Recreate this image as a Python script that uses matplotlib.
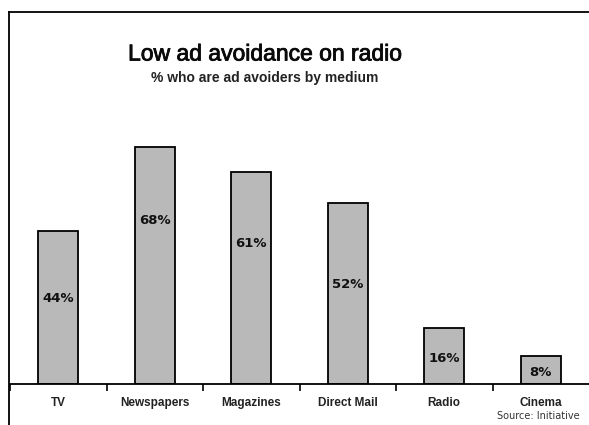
import matplotlib
matplotlib.use("Agg")
import matplotlib.pyplot as plt
import matplotlib.patheffects as pe
from matplotlib.lines import Line2D

plt.rcParams['font.family'] = ['Liberation Sans', 'DejaVu Sans']

categories = ['TV', 'Newspapers', 'Magazines', 'Direct Mail', 'Radio', 'Cinema']
values = [44, 68, 61, 52, 16, 8]
labels = ['44%', '68%', '61%', '52%', '16%', '8%']

# where the value label sits, as a fraction of the bar height
label_frac = [0.56, 0.69, 0.66, 0.55, 0.45, 0.43]

W, H = 589, 425
fig = plt.figure(figsize=(W / 100, H / 100), dpi=100)
fig.patch.set_facecolor('white')

# axes: baseline at y=384px, x from 10px to right edge
ax = fig.add_axes([10 / W, (H - 384) / H, 579 / W, 280 / H])
x = list(range(len(categories)))
ax.bar(x, values, width=0.41, color='#b9b9b9', edgecolor='black', linewidth=1.3, zorder=2)
ax.set_xlim(-0.5, len(categories) - 0.5)
ax.set_ylim(0, 280 / 3.48)

for i, v in enumerate(values):
    ax.text(i, v * label_frac[i], labels[i], ha='center', va='center',
            fontsize=9.5, fontweight='bold', color='#111111', family='DejaVu Sans')

for s in ['top', 'right', 'left']:
    ax.spines[s].set_visible(False)
ax.spines['bottom'].set_linewidth(1.3)
ax.set_yticks([])
ax.set_xticks([i - 0.5 for i in range(len(categories))])
ax.set_xticklabels([])
ax.tick_params(axis='x', direction='out', length=5, width=1.2)
for i, c in enumerate(categories):
    ax.text(i, -19 / 3.48, c, ha='center', va='center', fontsize=8.5,
            fontweight='bold', color='#222222')

# title and subtitle
fig.text(265 / W, 1 - 54 / H, 'Low ad avoidance on radio', ha='center', va='center',
         fontsize=16.5, color='#0a0a0a',
         path_effects=[pe.withStroke(linewidth=0.6, foreground='#0a0a0a')])
fig.text(265 / W, 1 - 78 / H, '% who are ad avoiders by medium', ha='center', va='center',
         fontsize=10, fontweight='bold', color='#222222')
fig.text(538 / W, 1 - 416 / H, 'Source: Initiative', ha='center', va='center',
         fontsize=7, color='#333333', family='DejaVu Sans')

# outer frame (runs off the right and bottom)
fig.add_artist(Line2D([8.5 / W, 8.5 / W], [0, 1 - 11.5 / H], transform=fig.transFigure,
                      color='black', linewidth=1.3))
fig.add_artist(Line2D([8.5 / W, 1], [1 - 11.5 / H, 1 - 11.5 / H], transform=fig.transFigure,
                      color='black', linewidth=1.3))

fig.savefig('out.png', dpi=100)
